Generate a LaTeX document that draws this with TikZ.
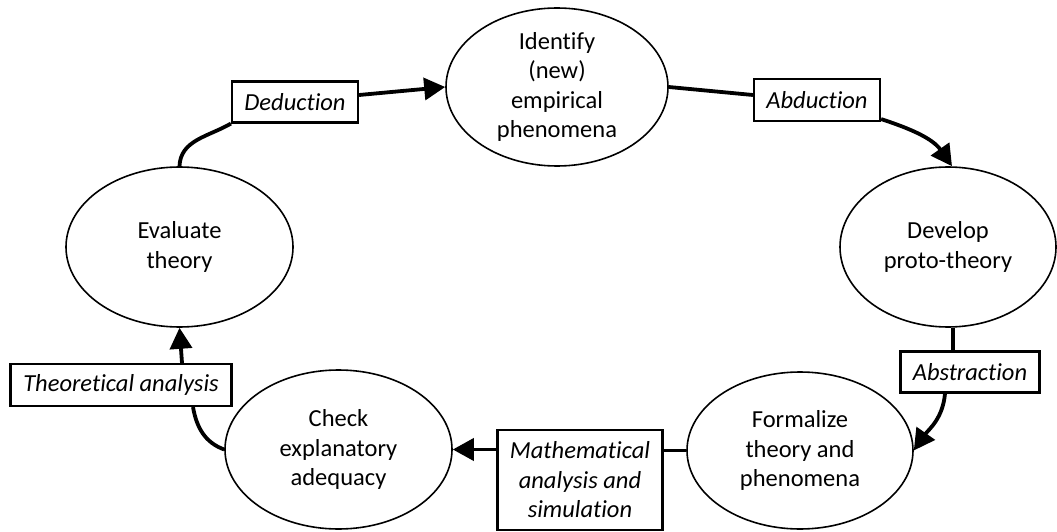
\documentclass[tikz,border=0pt]{standalone}
\usepackage{fontspec}
\setmainfont{Carlito}[Ligatures=NoCommon]
\usetikzlibrary{arrows.meta,shapes.geometric}
\tikzset{
  x=1pt,y=1pt,
  stage/.style={ellipse,draw,line width=1.6pt,inner sep=0pt,align=center,
    font=\fontsize{24.5}{29.5}\selectfont},
  lbl/.style={rectangle,draw,line width=2.2pt,inner sep=0pt,align=center,
    font=\fontsize{24.5}{29.5}\selectfont\itshape,fill=white},
  conn/.style={line width=3.8pt},
  arr/.style={conn,-{Triangle[length=21pt,width=22pt]}},
}
\begin{document}
\begin{tikzpicture}
\useasboundingbox (0,0) rectangle (1057,531);
% stages
\node[stage,minimum width=222pt,minimum height=158pt] (top) at (557,444) {Identify\\(new)\\empirical\\phenomena};
\node[stage,minimum width=216pt,minimum height=160pt] (dev) at (948,284) {Develop\\proto-theory};
\node[stage,minimum width=226pt,minimum height=157pt] (form) at (800,80.5) {Formalize\\theory and\\phenomena};
\node[stage,minimum width=227pt,minimum height=159pt] (check) at (338.5,81.5) {Check\\explanatory\\adequacy};
\node[stage,minimum width=227pt,minimum height=160pt] (eval) at (179.5,284) {Evaluate\\theory};
% labels
\node[lbl,minimum width=126pt,minimum height=41pt] (ded) at (295,429) {Deduction};
\node[lbl,minimum width=126pt,minimum height=42pt] (abd) at (817,431) {Abduction};
\node[lbl,minimum width=139pt,minimum height=41pt] (abs) at (970,159) {Abstraction};
\node[lbl,minimum width=221pt,minimum height=42pt] (theo) at (121,146) {Theoretical analysis};
\node[lbl,minimum width=165pt,minimum height=100pt] (math) at (580,51) {Mathematical\\analysis and\\simulation};
% connectors
\draw[conn] (eval.north) to[out=88,in=210] (ded.south west);
\draw[arr] ([yshift=7pt]ded.east) -- (top.west);
\draw[conn] (top.east) -- ([yshift=5pt]abd.west);
\draw[arr] ([yshift=3pt]abd.south east) to[out=-18,in=125] ([xshift=4pt]dev.north);
\draw[conn] ([xshift=5pt]dev.south) -- ([xshift=5pt]dev.south |- abs.north);
\draw[arr] ([xshift=-25pt]abs.south) to[out=-95,in=55] (form.east);
\draw[conn] (form.west) -- (form.west -| math.east);
\draw[arr] (check.east -| math.west) -- (check.east);
\draw[conn] (check.west) to[out=160,in=-80] ([xshift=72pt]theo.south);
\draw[arr] ([xshift=61pt]theo.north) -- (eval.south);
\end{tikzpicture}
\end{document}
